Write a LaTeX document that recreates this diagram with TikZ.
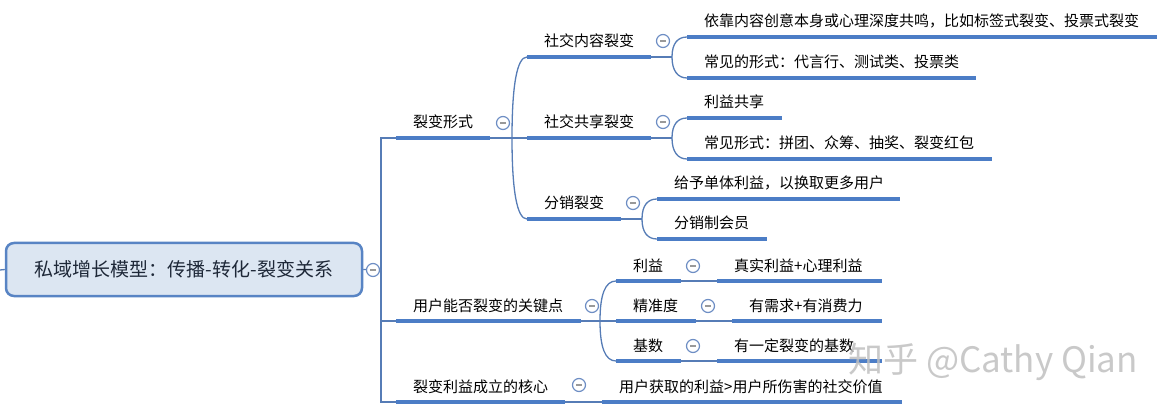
\documentclass[tikz,border=0pt]{standalone}
\usepackage{fontspec}
\setmainfont{Noto Sans CJK SC}
\definecolor{ul}{RGB}{76,125,198}
\definecolor{conn}{RGB}{86,124,182}
\definecolor{rootfill}{RGB}{220,230,242}
\definecolor{rootdraw}{RGB}{88,132,196}
\definecolor{circ}{RGB}{110,142,196}
\definecolor{roottext}{RGB}{30,40,56}
\tikzset{
  uline/.style={draw=ul, line width=4pt},
  conn/.style={draw=conn, line width=1.3pt},
  lbl/.style={inner sep=0pt, anchor=west, font=\fontsize{15}{18}\selectfont, text=black, text height=12pt, text depth=2pt},
  collapse/.style={circle, draw=circ, fill=white, line width=1.2pt, minimum size=13pt, inner sep=0pt,
    path picture={\draw[draw=gray!80, line width=1.1pt] ([xshift=-3pt]path picture bounding box.center) -- ([xshift=3pt]path picture bounding box.center);}},
  rootbox/.style={rectangle, rounded corners=8pt, draw=rootdraw, line width=2.5pt, fill=rootfill,
    minimum width=356pt, minimum height=53pt, inner sep=0pt, text=roottext, font=\fontsize{19}{22}\selectfont},
}
\newcommand\mtopic[5]{%
  \coordinate (#1-l) at (#2,#4);
  \coordinate (#1-r) at (#3,#4);
  \node[lbl] (#1) at (#2+17,#4-15) {#5};
  \draw[uline] (#1-l) -- (#1-r);
}
\begin{document}
\begin{tikzpicture}[x=1pt,y=-1pt]
\useasboundingbox (0,0) rectangle (1170,414);
% root
\node[rootbox] (root) at (184,269.5) {私域增长模型：传播-转化-裂变关系};
\coordinate (edge) at (0,270);
\coordinate (tm) at (381,270);
\coordinate (tt) at (381,138);
\coordinate (tb) at (381,402);
% topics
\mtopic{a}{396}{490}{138}{裂变形式}
\mtopic{a1}{527}{651}{57}{社交内容裂变}
\mtopic{a2}{527}{651}{138}{社交共享裂变}
\mtopic{a3}{527}{621}{219}{分销裂变}
\mtopic{a11}{687}{1157}{37}{依靠内容创意本身或心理深度共鸣，比如标签式裂变、投票式裂变}
\mtopic{a12}{687}{976}{78}{常见的形式：代言行、测试类、投票类}
\mtopic{a21}{687}{782}{118}{利益共享}
\mtopic{a22}{687}{992}{159}{常见形式：拼团、众筹、抽奖、裂变红包}
\mtopic{a31}{657}{900}{199}{给予单体利益，以换取更多用户}
\mtopic{a32}{657}{767}{239}{分销制会员}
\mtopic{g}{396}{581}{321}{用户能否裂变的关键点}
\mtopic{g1}{616}{681}{281}{利益}
\mtopic{g2}{616}{696}{321}{精准度}
\mtopic{g3}{616}{681}{361}{基数}
\mtopic{g1x}{717}{882}{281}{真实利益+心理利益}
\mtopic{g2x}{732}{882}{321}{有需求+有消费力}
\mtopic{g3x}{717}{882}{361}{有一定裂变的基数}
\mtopic{k}{396}{565}{402}{裂变利益成立的核心}
\mtopic{kx}{602}{902}{402}{用户获取的利益>用户所伤害的社交价值}
% junctions
\coordinate (aj) at (512,138);
\coordinate (a1j) at (672,57);
\coordinate (a2j) at (672,138);
\coordinate (a3j) at (642,219);
\coordinate (gj) at (600,321);
% connectors
\draw[conn] (edge) -- (root.west);
\draw[conn] (root.east) -- (tm);
\draw[conn] (a-l) -- (tt) -- (tb) -- (k-l);
\draw[conn] (tt |- g-l) -- (g-l);
\draw[conn] (a-r) -- (a2-l);
\draw[conn] (aj) .. controls +(0,-53) and +(-10,0) .. (a1-l);
\draw[conn] (aj) .. controls +(0,53) and +(-10,0) .. (a3-l);
\draw[conn] (a1-r) -- (a1j);
\draw[conn] (a1j) .. controls +(0,-14) and +(-9,0) .. (a11-l);
\draw[conn] (a1j) .. controls +(0,14) and +(-9,0) .. (a12-l);
\draw[conn] (a2-r) -- (a2j);
\draw[conn] (a2j) .. controls +(0,-14) and +(-9,0) .. (a21-l);
\draw[conn] (a2j) .. controls +(0,14) and +(-9,0) .. (a22-l);
\draw[conn] (a3-r) -- (a3j);
\draw[conn] (a3j) .. controls +(0,-14) and +(-9,0) .. (a31-l);
\draw[conn] (a3j) .. controls +(0,14) and +(-9,0) .. (a32-l);
\draw[conn] (g-r) -- (g2-l);
\draw[conn] (gj) .. controls +(0,-26) and +(-11,0) .. (g1-l);
\draw[conn] (gj) .. controls +(0,26) and +(-11,0) .. (g3-l);
\draw[conn] (g1-r) -- (g1x-l);
\draw[conn] (g2-r) -- (g2x-l);
\draw[conn] (g3-r) -- (g3x-l);
\draw[conn] (k-r) -- (kx-l);
% collapse markers
\node[collapse] (c0) at (373,270) {};
\node[collapse] (ca) at (503,123) {};
\node[collapse] (ca1) at (663,41) {};
\node[collapse] (ca2) at (663,122) {};
\node[collapse] (ca3) at (633,203) {};
\node[collapse] (cg) at (592,306) {};
\node[collapse] (cg1) at (693,266) {};
\node[collapse] (cg2) at (708,306) {};
\node[collapse] (cg3) at (693,346) {};
\node[collapse] (ck) at (579,385) {};
% watermark
\node[inner sep=0pt, anchor=west, font=\fontsize{35}{38}\selectfont, text=gray!50, opacity=0.85] (wm) at (848,362) {知乎 @Cathy Qian};
\end{tikzpicture}
\end{document}
